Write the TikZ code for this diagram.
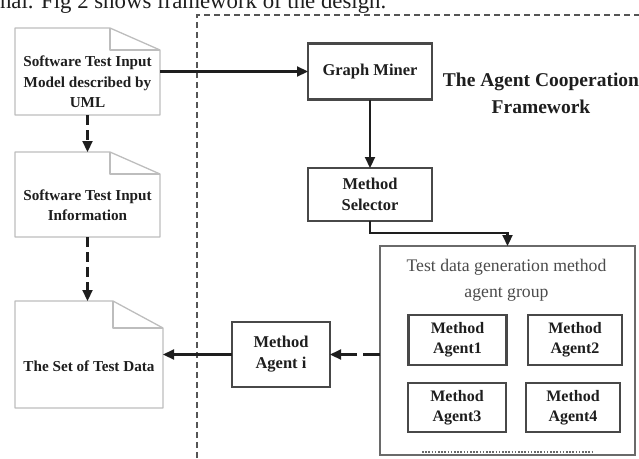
\documentclass[tikz,border=0pt]{standalone}
\usepackage{fontspec}
\setmainfont{Liberation Serif}
\usetikzlibrary{arrows.meta}
\definecolor{ink}{HTML}{1E1E1E}
\definecolor{boxgray}{HTML}{484848}
\definecolor{grpgray}{HTML}{6A6A6A}
\definecolor{docgray}{HTML}{BDBDBD}
\definecolor{framegray}{HTML}{555555}
% outline of a dog-eared document around node #1, fold height #2
\newcommand\docshape[2]{%
  \draw[docline] (#1.north west) -- ([xshift=-50pt]#1.north east)
    -- ([yshift=-#2]#1.north east) -- (#1.south east) -- (#1.south west) -- cycle;
  \draw[docline] ([xshift=-50pt]#1.north east) |- ([yshift=-#2]#1.north east);}
\begin{document}
\begin{tikzpicture}[x=1pt,y=-1pt,
  every node/.style={inner sep=0pt, outer sep=0pt},
  blk/.style 2 args={draw=boxgray, line width=2.2pt, minimum width=#1,
    minimum height=#2, align=center, text=ink,
    font=\fontsize{16.5}{21}\selectfont\bfseries},
  agent/.style 2 args={blk={#1}{#2}, font=\fontsize{16}{20}\selectfont\bfseries},
  docfr/.style 2 args={minimum width=#1, minimum height=#2},
  doctext/.style={align=center, text=ink, font=\fontsize{15.2}{20.5}\selectfont\bfseries},
  flow/.style={draw=ink, line width=2.2pt, -{Triangle[length=11pt,width=10pt]}},
  dflow/.style={flow, dash pattern=on 10pt off 5pt},
  docline/.style={draw=docgray, line width=1.3pt, line join=round},
  frame/.style={draw=framegray, line width=1.2pt, dash pattern=on 6pt off 4pt},
]
\useasboundingbox (0,0) rectangle (639,458);
\clip (0,0) rectangle (639,458);

% running text of the page above the figure
\node[anchor=base west, text=ink, font=\fontsize{22.8}{26}\selectfont] (intro) at (0,8)
  {nal. Fig 2 shows framework of the design.};

% boundary of the cooperation framework
\draw[frame] (197,458) -- (197,15) -- (639,15);

% documents
\node[docfr={145pt}{87pt}] (d1) at (87.5,71.5) {};
\docshape{d1}{22pt}
\node[doctext] (d1t) at (87.5,82) {Software Test Input\\Model described by\\UML};

\node[docfr={145pt}{85pt}] (d2) at (87.5,194.5) {};
\docshape{d2}{22pt}
\node[doctext] (d2t) at (87.5,205) {Software Test Input\\Information};

\node[docfr={148pt}{107pt}] (d3) at (89,354.5) {};
\docshape{d3}{27pt}
\node[doctext] (d3t) at (89,366) {The Set of Test Data};

% framework components
\node[blk={124pt}{56pt}] (gm) at (370,71.5) {Graph Miner};
\node[align=center, text=ink, font=\fontsize{19.5}{27}\selectfont\bfseries] (title)
  at (541,93.5) {The Agent Cooperation\\Framework};
\node[blk={124pt}{53pt}] (ms) at (370,194.5) {Method\\Selector};

\node[draw=grpgray, line width=2pt, minimum width=255pt, minimum height=209pt]
  (grp) at (507.5,350.5) {};
\node[align=center, text=ink!80, font=\fontsize{17.7}{26}\selectfont] (gt)
  at (506.5,280) {Test data generation method\\agent group};
\node[agent={98pt}{50pt}] (a1) at (457.5,340) {Method\\Agent1};
\node[agent={94pt}{50pt}] (a2) at (575,340) {Method\\Agent2};
\node[agent={98pt}{49pt}] (a3) at (457,407.5) {Method\\Agent3};
\node[agent={94pt}{49pt}] (a4) at (573,407.5) {Method\\Agent4};
\draw[draw=grpgray, line width=1.5pt, dash pattern=on 1.6pt off 1.6pt] (422,452) -- (592,452);

\node[blk={98pt}{65pt}] (mai) at (281,354.5) {Method\\Agent i};

% connectors
\draw[flow] (d1.east) -- (gm.west);
\draw[dflow] (d1.south) -- (d2.north);
\draw[dflow] (d2.south) -- (d2.south |- d3.north);
\draw[flow] (gm.south) -- (ms.north);
\draw[flow] (ms.south) -- ++(0,12) -| (grp.north);
\draw[flow, dash pattern=on 17pt off 6pt on 60pt off 0pt] (grp.west |- mai.east) -- (mai.east);
\draw[flow] (mai.west) -- (mai.west -| d3.east);
\end{tikzpicture}
\end{document}
